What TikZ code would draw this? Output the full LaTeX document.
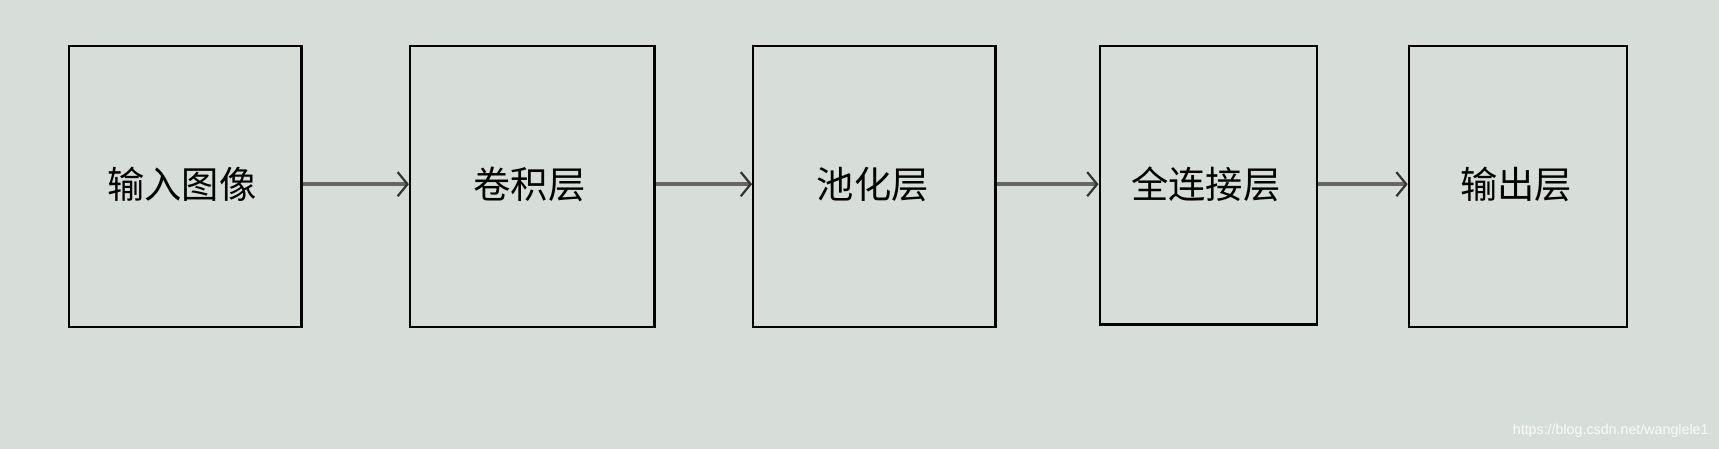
\documentclass[tikz,border=0pt]{standalone}
\usepackage{fontspec}
\newfontfamily\cjk{Noto Sans CJK SC}
\newfontfamily\wmfont{Liberation Sans}
\usetikzlibrary{arrows.meta}
\definecolor{bg}{HTML}{D7DEDA}
\begin{document}
\begin{tikzpicture}[x=1pt,y=-1pt,
  blk/.style={draw=black,line width=2pt,fill=bg,inner sep=0pt},
  lbl/.style={font=\cjk\fontsize{34}{40}\selectfont},
  arr/.style={draw=black!60,line width=4pt,-{Straight Barb[length=9pt,width=22pt,line width=2pt,color=black!80]}}]
\fill[bg] (0,0) rectangle (1568,410);
\useasboundingbox (0,0) rectangle (1568,410);
\node[blk,minimum width=212pt,minimum height=256pt] (a) at (169,170) {};
\node[blk,minimum width=223pt,minimum height=256pt] (b) at (485.5,170) {};
\node[blk,minimum width=221pt,minimum height=256pt] (c) at (797.5,170) {};
\node[blk,minimum width=198pt,minimum height=254pt] (d) at (1102,169) {};
\node[blk,minimum width=199pt,minimum height=256pt] (e) at (1384.5,170) {};
\node[lbl] at (166,168) {输入图像};
\node[lbl] at (483,168) {卷积层};
\node[lbl] at (796,168) {池化层};
\node[lbl] at (1100,168) {全连接层};
\node[lbl] at (1383,168) {输出层};
\coordinate (ay) at (0,168);
\draw[arr] (a.east|-ay) -- (b.west|-ay);
\draw[arr] (b.east|-ay) -- (c.west|-ay);
\draw[arr] (c.east|-ay) -- (d.west|-ay);
\draw[arr] (d.east|-ay) -- (e.west|-ay);
\node[anchor=east,text=white!85!bg,font=\wmfont\fontsize{13}{15}\selectfont] (w) at (1562,393) {https://blog.csdn.net/wanglele1};
\end{tikzpicture}
\end{document}
